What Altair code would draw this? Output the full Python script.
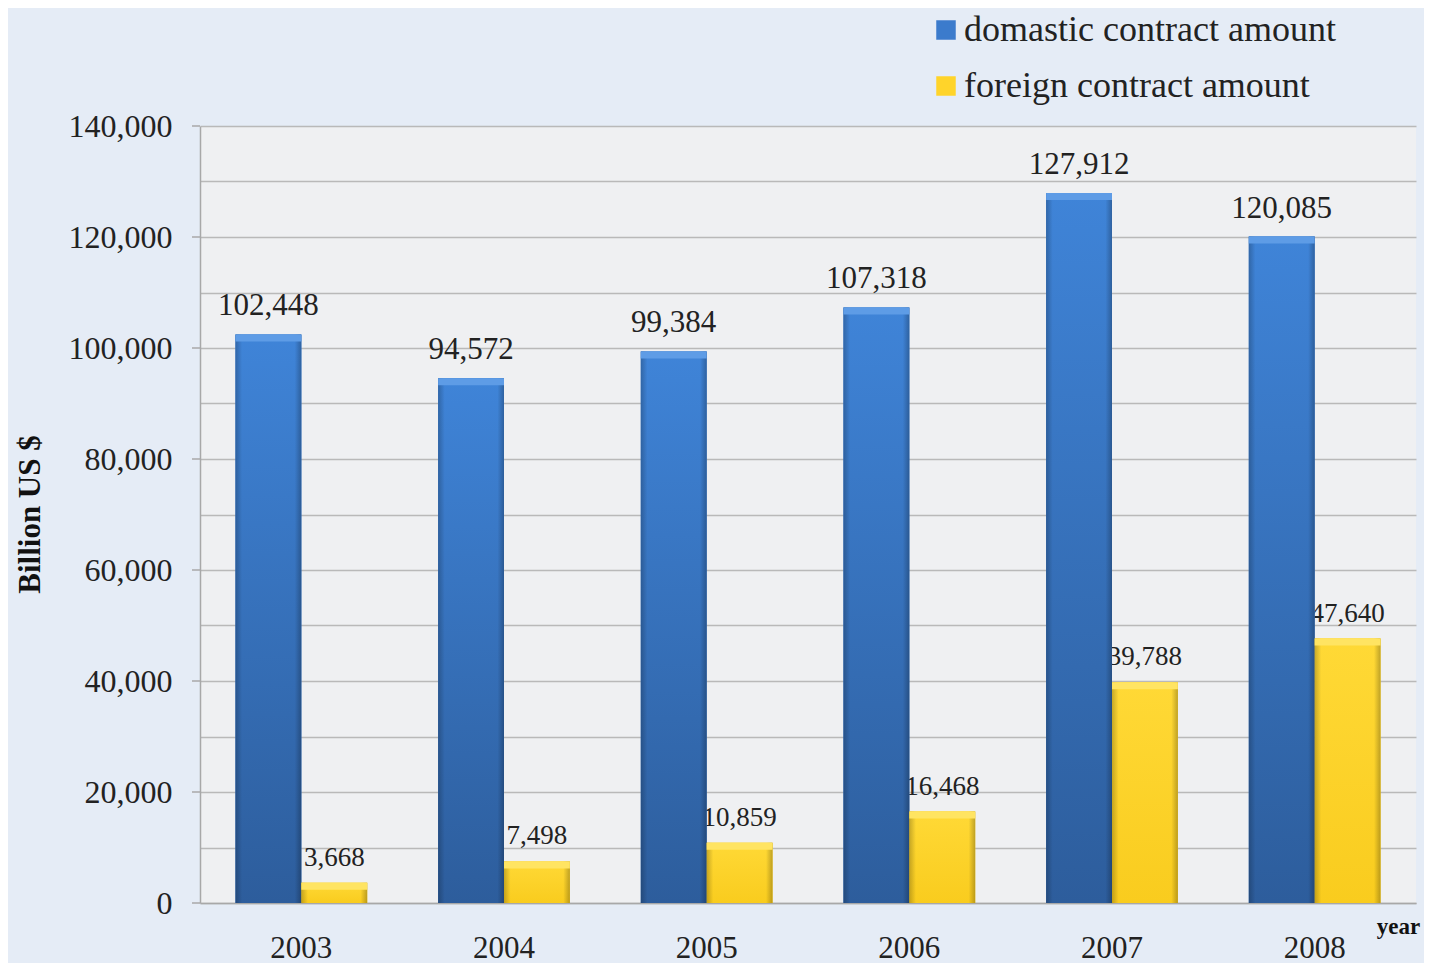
import altair as alt
import pandas as pd

years = ["2003", "2004", "2005", "2006", "2007", "2008"]
domestic = [102448, 94572, 99384, 107318, 127912, 120085]
foreign = [3668, 7498, 10859, 16468, 39788, 47640]
series_names = ["domastic contract amount", "foreign contract amount"]
series_colors = ["#3b7bcc", "#ffd42a"]
y_label_ticks = [0, 20000, 40000, 60000, 80000, 100000, 120000, 140000]
y_grid_ticks = [0, 10000, 20000, 30000, 40000, 50000, 60000, 70000,
                80000, 90000, 100000, 110000, 120000, 130000, 140000]

rows = []
for i, yr in enumerate(years):
    rows.append({"year": yr, "series": series_names[0], "value": domestic[i]})
    rows.append({"year": yr, "series": series_names[1], "value": foreign[i]})
df = pd.DataFrame(rows)
ticks_df = pd.DataFrame({"value": y_label_ticks})

FONT = "Liberation Serif"

x_enc = alt.X("year:N", sort=years,
              scale=alt.Scale(paddingInner=0.35, paddingOuter=0.175),
              axis=alt.Axis(title="year", titleFont=FONT, titleFontSize=23,
                            titleFontWeight="bold", titleColor="#111111",
                            titleX=1198, titleY=23, titleBaseline="middle",
                            titleAlign="center",
                            labelFont=FONT, labelFontSize=31, labelColor="#222222",
                            labelPadding=30, labelAngle=0, ticks=False,
                            domainColor="#a8a8a8", domainWidth=1.5))
xo = alt.XOffset("series:N", scale=alt.Scale(domain=series_names,
                                             paddingInner=0, paddingOuter=0))
y_scale = alt.Scale(domain=[0, 140000], nice=False)
y_enc = alt.Y("value:Q", scale=y_scale,
              axis=alt.Axis(title="Billion US $", values=y_grid_ticks,
                            labelExpr="datum.value % 20000 == 0 ? format(datum.value, ',') : ''",
                            grid=True, gridColor="#b9b9b9", gridWidth=1.5,
                            ticks=False, labelPadding=28,
                            labelFont=FONT, labelFontSize=32, labelColor="#222222",
                            domainColor="#a8a8a8", domainWidth=1.5,
                            titleFont=FONT, titleFontSize=31, titleFontWeight="bold",
                            titleColor="#111111", titleAngle=270,
                            titleX=-170, titleY=388, titleAlign="center",
                            titleBaseline="middle"))

base = alt.Chart(df)

blue_grad = alt.LinearGradient(gradient="linear", x1=0, y1=0, x2=0, y2=1,
                               stops=[alt.GradientStop(color="#3f84d8", offset=0),
                                      alt.GradientStop(color="#2d5d9c", offset=1)])
yellow_grad = alt.LinearGradient(gradient="linear", x1=0, y1=0, x2=0, y2=1,
                                 stops=[alt.GradientStop(color="#ffd936", offset=0),
                                        alt.GradientStop(color="#f9cc1e", offset=1)])
edge_grad = alt.LinearGradient(gradient="linear", x1=0, y1=0, x2=1, y2=0,
                               stops=[alt.GradientStop(color="rgba(0,0,0,0.22)", offset=0),
                                      alt.GradientStop(color="rgba(0,0,0,0)", offset=0.1),
                                      alt.GradientStop(color="rgba(0,0,0,0)", offset=0.9),
                                      alt.GradientStop(color="rgba(0,0,0,0.25)", offset=1)])

# foreign labels drawn first (partially hidden by the blue bars, as in the original)
foreign_labels = base.transform_filter(alt.datum.series == series_names[1]).mark_text(
    font=FONT, fontSize=27, color="#222222", baseline="alphabetic", dy=-17
).encode(x=x_enc, xOffset=xo, y=y_enc, text=alt.Text("value:Q", format=","))

bars = base.mark_bar().encode(
    x=x_enc, xOffset=xo, y=y_enc,
    color=alt.Color("series:N", scale=alt.Scale(domain=series_names, range=series_colors),
                    legend=alt.Legend(orient="none", legendX=728, legendY=-114,
                                      title=None, padding=0,
                                      labelFont=FONT, labelFontSize=36,
                                      labelColor="#222222", labelOffset=0,
                                      symbolType="square", symbolSize=380,
                                      symbolStrokeWidth=0, rowPadding=20,
                                      labelLimit=600)))

blue_bars = base.transform_filter(alt.datum.series == series_names[0]).mark_bar(
    color=blue_grad).encode(x=x_enc, xOffset=xo, y=y_enc)
yellow_bars = base.transform_filter(alt.datum.series == series_names[1]).mark_bar(
    color=yellow_grad).encode(x=x_enc, xOffset=xo, y=y_enc)
edges = base.mark_bar(color=edge_grad).encode(x=x_enc, xOffset=xo, y=y_enc)

blue_cap = base.transform_filter(alt.datum.series == series_names[0]).mark_bar(
    color="#5e9ce6", y2Offset=7).encode(x=x_enc, xOffset=xo, y=y_enc,
                                        y2=alt.Y2("value:Q"))
yellow_cap = base.transform_filter(alt.datum.series == series_names[1]).mark_bar(
    color="#ffe462", y2Offset=7).encode(x=x_enc, xOffset=xo, y=y_enc,
                                        y2=alt.Y2("value:Q"))

domestic_labels = base.transform_filter(alt.datum.series == series_names[0]).mark_text(
    font=FONT, fontSize=31, color="#222222", baseline="alphabetic", dy=-19
).encode(x=x_enc, xOffset=xo, y=y_enc, text=alt.Text("value:Q", format=","))

tick_marks = alt.Chart(ticks_df).mark_rule(color="#a8a8a8", strokeWidth=1.5).encode(
    x=alt.value(-8), x2=alt.value(0), y=y_enc)

chart = alt.layer(
    foreign_labels, bars, blue_bars, yellow_bars, edges, blue_cap, yellow_cap,
    domestic_labels, tick_marks
).properties(
    width=1216, height=777,
    padding={"left": 192, "top": 118, "right": 8, "bottom": 60},
    autosize=alt.AutoSizeParams(type="none"),
    background="#e5ecf6",
).configure_view(fill="#eff0f2", stroke=None)

chart.save("out.html", embed_options={"renderer": "svg", "actions": False})
